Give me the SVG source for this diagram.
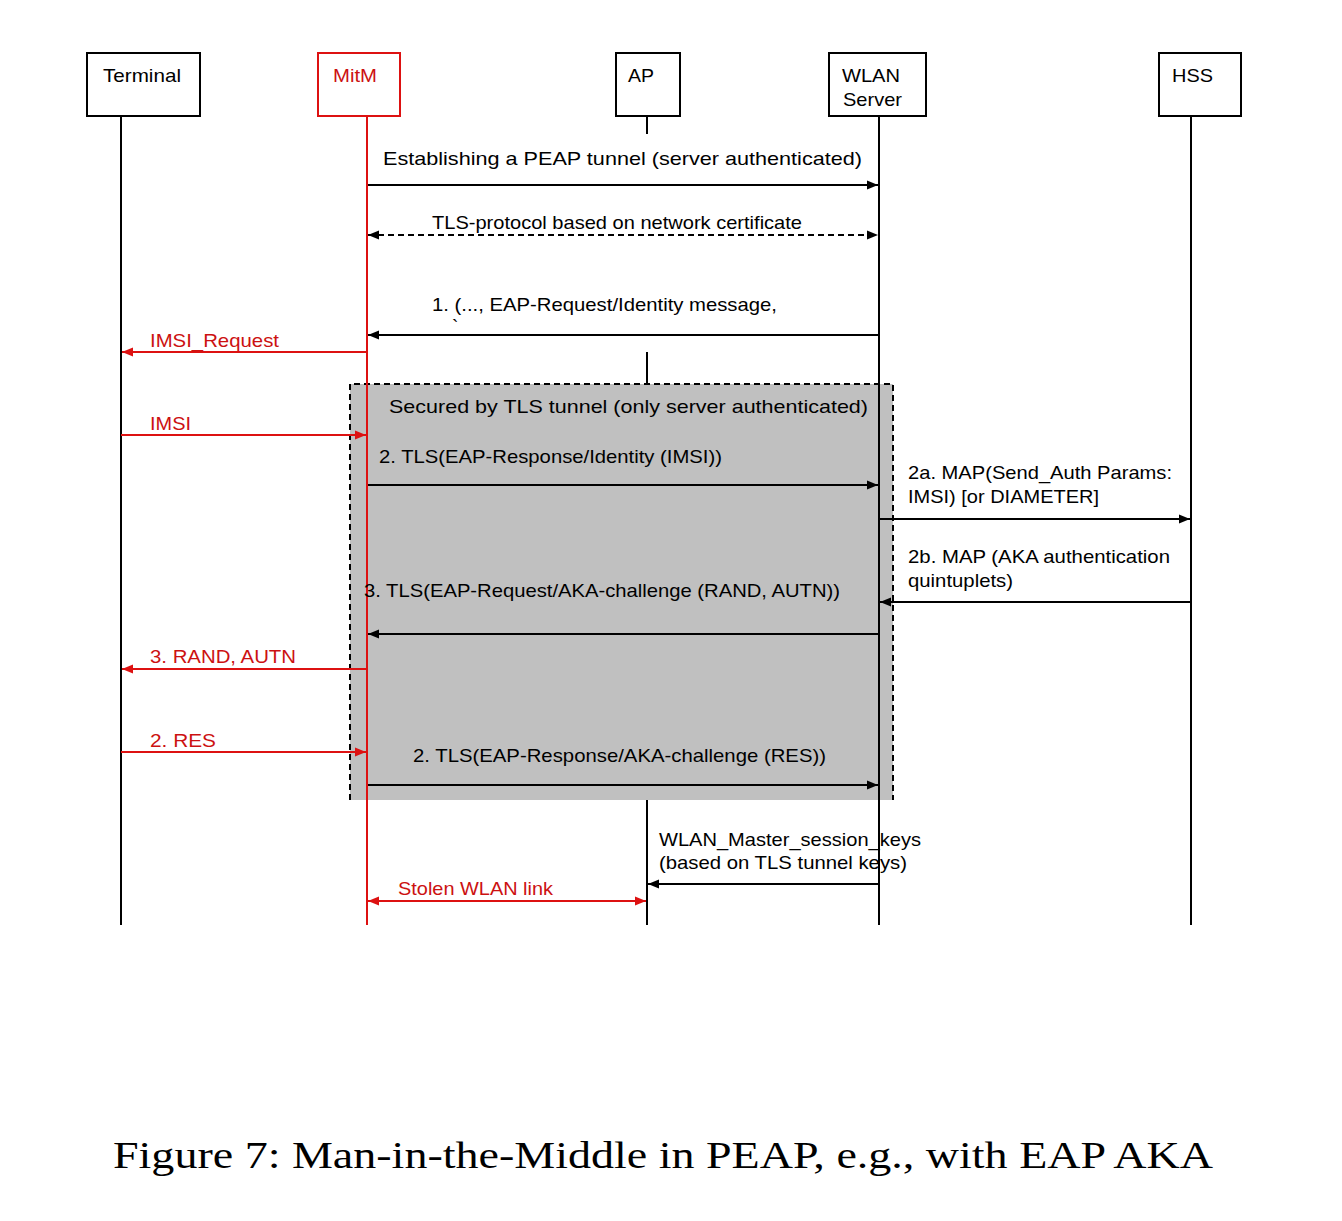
<svg xmlns="http://www.w3.org/2000/svg" width="1342" height="1221" viewBox="0 0 1342 1221">
<style>
.box{fill:#fff;stroke:#000;stroke-width:2}
.rbox{fill:#fff;stroke:#dd1111;stroke-width:2}
.life{stroke:#000;stroke-width:2;fill:none}
.rlife{stroke:#dd1111;stroke-width:2;fill:none}
.msg{stroke:#000;stroke-width:2;fill:none}
.rmsg{stroke:#dd1111;stroke-width:2;fill:none}
.dash{stroke-dasharray:6,4}
text{font-family:"Liberation Sans",Arial,sans-serif;font-size:19px;fill:#000}
.rt{fill:#cc1111}
.cap{font-family:"Liberation Serif","Times New Roman",serif;font-size:38px}
</style>
<defs>
<marker id="ah" markerWidth="11" markerHeight="11" refX="11" refY="5.5" orient="auto-start-reverse" markerUnits="userSpaceOnUse">
<path d="M0,1 L11,5.5 L0,10 z" fill="#000"/>
</marker>
<marker id="rah" markerWidth="11" markerHeight="11" refX="11" refY="5.5" orient="auto-start-reverse" markerUnits="userSpaceOnUse">
<path d="M0,1 L11,5.5 L0,10 z" fill="#dd1111"/>
</marker>
</defs>
<rect width="1342" height="1221" fill="#fff"/>

<g id="tls-tunnel">
<rect x="350" y="384" width="543" height="416" fill="#c0c0c0"/>
<path d="M350,800 L350,384 L893,384 L893,800" fill="none" stroke="#000" stroke-width="2" class="dash"/>
<text x="389" y="413" textLength="479" lengthAdjust="spacingAndGlyphs">Secured by TLS tunnel (only server authenticated)</text>
</g>

<g id="terminal">
<rect class="box" x="87" y="53" width="113" height="63"/>
<text x="103" y="82" textLength="78" lengthAdjust="spacingAndGlyphs">Terminal</text>
<line class="life" x1="121" y1="116" x2="121" y2="925"/>
</g>
<g id="mitm">
<rect class="rbox" x="318" y="53" width="82" height="63"/>
<text class="rt" x="333" y="82" textLength="44" lengthAdjust="spacingAndGlyphs">MitM</text>
<line class="rlife" x1="367" y1="116" x2="367" y2="925"/>
</g>
<g id="ap">
<rect class="box" x="616" y="53" width="64" height="63"/>
<text x="628" y="82" textLength="26" lengthAdjust="spacingAndGlyphs">AP</text>
<line class="life" x1="647" y1="116" x2="647" y2="134"/>
<line class="life" x1="647" y1="352" x2="647" y2="384"/>
<line class="life" x1="647" y1="800" x2="647" y2="925"/>
</g>
<g id="wlan-server">
<rect class="box" x="829" y="53" width="97" height="63"/>
<text x="842" y="82" textLength="58" lengthAdjust="spacingAndGlyphs">WLAN</text>
<text x="843" y="106" textLength="59" lengthAdjust="spacingAndGlyphs">Server</text>
<line class="life" x1="879" y1="116" x2="879" y2="925"/>
</g>
<g id="hss">
<rect class="box" x="1159" y="53" width="82" height="63"/>
<text x="1172" y="82" textLength="41" lengthAdjust="spacingAndGlyphs">HSS</text>
<line class="life" x1="1191" y1="116" x2="1191" y2="925"/>
</g>

<g id="connectors">
<line class="msg" x1="368" y1="185" x2="878" y2="185" marker-end="url(#ah)"/>
<text x="383" y="165" textLength="479" lengthAdjust="spacingAndGlyphs">Establishing a PEAP tunnel (server authenticated)</text>

<line class="msg dash" x1="368" y1="235" x2="878" y2="235" marker-start="url(#ah)" marker-end="url(#ah)"/>
<text x="432" y="229" textLength="370" lengthAdjust="spacingAndGlyphs">TLS-protocol based on network certificate</text>

<line class="msg" x1="879" y1="335" x2="368" y2="335" marker-end="url(#ah)"/>
<text x="432" y="311" textLength="345" lengthAdjust="spacingAndGlyphs">1. (..., EAP-Request/Identity message,</text>
<text x="452" y="333" font-size="12">`</text>

<line class="rmsg" x1="367" y1="352" x2="122" y2="352" marker-end="url(#rah)"/>
<text class="rt" x="150" y="347" textLength="129" lengthAdjust="spacingAndGlyphs">IMSI_Request</text>

<line class="rmsg" x1="121" y1="435" x2="366" y2="435" marker-end="url(#rah)"/>
<text class="rt" x="150" y="430" textLength="41" lengthAdjust="spacingAndGlyphs">IMSI</text>

<line class="msg" x1="368" y1="485" x2="878" y2="485" marker-end="url(#ah)"/>
<text x="379" y="463" textLength="343" lengthAdjust="spacingAndGlyphs">2. TLS(EAP-Response/Identity (IMSI))</text>

<line class="msg" x1="879" y1="519" x2="1190" y2="519" marker-end="url(#ah)"/>
<text x="908" y="479" textLength="264" lengthAdjust="spacingAndGlyphs">2a. MAP(Send_Auth Params:</text>
<text x="908" y="503" textLength="191" lengthAdjust="spacingAndGlyphs">IMSI) [or DIAMETER]</text>

<line class="msg" x1="1191" y1="602" x2="880" y2="602" marker-end="url(#ah)"/>
<text x="908" y="563" textLength="262" lengthAdjust="spacingAndGlyphs">2b. MAP (AKA authentication</text>
<text x="908" y="587" textLength="105" lengthAdjust="spacingAndGlyphs">quintuplets)</text>

<line class="msg" x1="879" y1="634" x2="368" y2="634" marker-end="url(#ah)"/>
<text x="364" y="597" textLength="476" lengthAdjust="spacingAndGlyphs">3. TLS(EAP-Request/AKA-challenge (RAND, AUTN))</text>

<line class="rmsg" x1="367" y1="669" x2="122" y2="669" marker-end="url(#rah)"/>
<text class="rt" x="150" y="663" textLength="146" lengthAdjust="spacingAndGlyphs">3. RAND, AUTN</text>

<line class="rmsg" x1="121" y1="752" x2="366" y2="752" marker-end="url(#rah)"/>
<text class="rt" x="150" y="747" textLength="66" lengthAdjust="spacingAndGlyphs">2. RES</text>

<line class="msg" x1="368" y1="785" x2="878" y2="785" marker-end="url(#ah)"/>
<text x="413" y="762" textLength="413" lengthAdjust="spacingAndGlyphs">2. TLS(EAP-Response/AKA-challenge (RES))</text>

<line class="msg" x1="879" y1="884" x2="648" y2="884" marker-end="url(#ah)"/>
<text x="659" y="846" textLength="262" lengthAdjust="spacingAndGlyphs">WLAN_Master_session_keys</text>
<text x="659" y="869" textLength="248" lengthAdjust="spacingAndGlyphs">(based on TLS tunnel keys)</text>

<line class="rmsg" x1="368" y1="901" x2="646" y2="901" marker-start="url(#rah)" marker-end="url(#rah)"/>
<text class="rt" x="398" y="895" textLength="155" lengthAdjust="spacingAndGlyphs">Stolen WLAN link</text>
</g>

<text class="cap" x="113" y="1168" textLength="1100" lengthAdjust="spacingAndGlyphs">Figure 7: Man-in-the-Middle in PEAP, e.g., with EAP AKA</text>
</svg>
